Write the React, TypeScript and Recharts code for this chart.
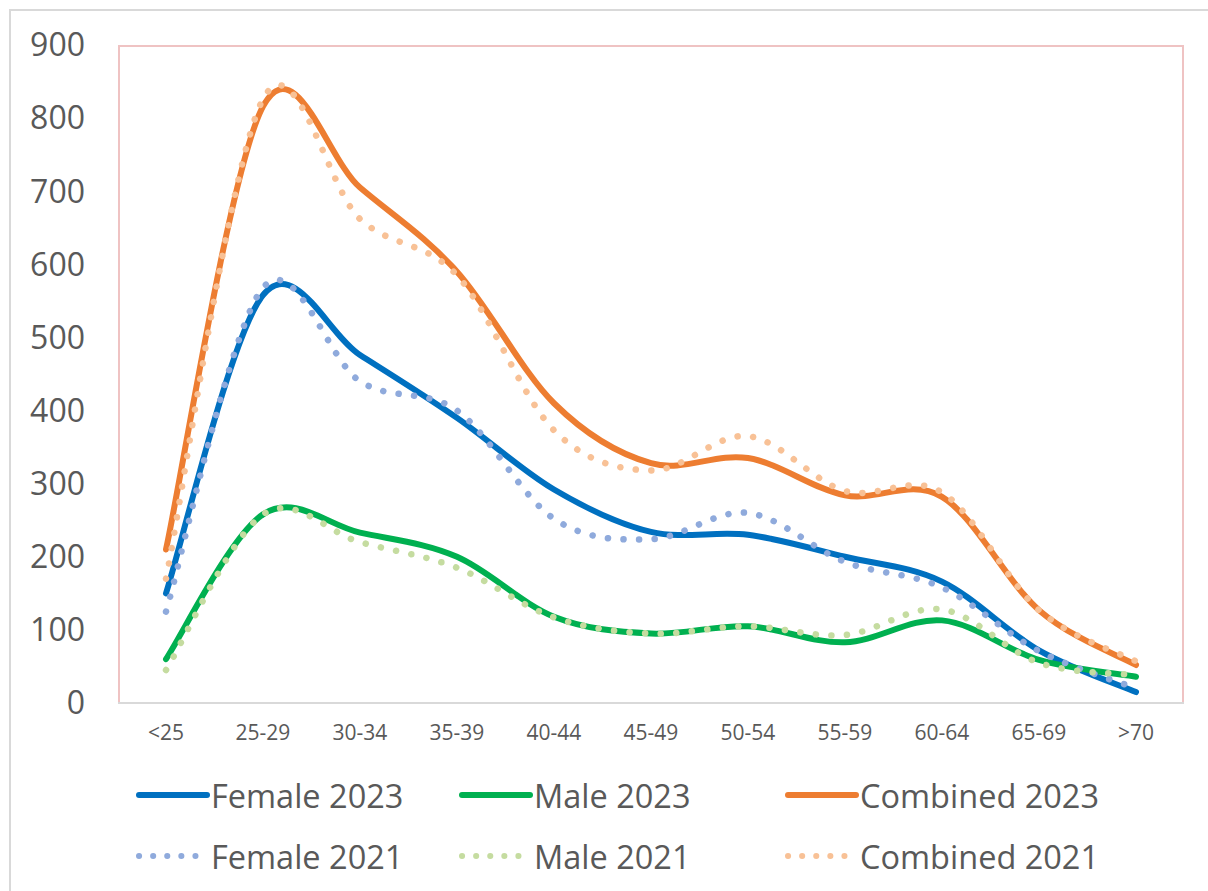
import React from 'react';
import { LineChart, Line, XAxis, YAxis } from 'recharts';

const ageGroups = ['<25', '25-29', '30-34', '35-39', '40-44', '45-49', '50-54', '55-59', '60-64', '65-69', '>70'];

const female2023 = [150, 558, 476, 390, 292, 234, 230, 200, 166, 72, 15];
const male2023 = [60, 258, 233, 200, 118, 95, 105, 83, 113, 59, 36];
const combined2023 = [210, 816, 705, 590, 410, 328, 335, 284, 282, 127, 52];
const female2021 = [125, 568, 440, 400, 252, 224, 260, 193, 158, 71, 20];
const male2021 = [45, 258, 220, 185, 117, 95, 105, 93, 128, 55, 38];
const combined2021 = [170, 826, 662, 585, 373, 318, 365, 290, 288, 127, 57];

const yTicks = [0, 100, 200, 300, 400, 500, 600, 700, 800, 900];

const data = ageGroups.map((age, i) => ({
  age,
  female2023: female2023[i],
  male2023: male2023[i],
  combined2023: combined2023[i],
  female2021: female2021[i],
  male2021: male2021[i],
  combined2021: combined2021[i],
}));

const series = [
  { key: 'female2023', name: 'Female 2023', color: '#0070C0', dotted: false },
  { key: 'male2023', name: 'Male 2023', color: '#00B050', dotted: false },
  { key: 'combined2023', name: 'Combined 2023', color: '#ED7D31', dotted: false },
  { key: 'female2021', name: 'Female 2021', color: '#8FAADC', dotted: true },
  { key: 'male2021', name: 'Male 2021', color: '#C5DCA0', dotted: true },
  { key: 'combined2021', name: 'Combined 2021', color: '#F8C196', dotted: true },
];

const FONT = '"Open Sans", "Liberation Sans", sans-serif';
const TEXT = '#595959';

// Office-style smoothed line: Catmull-Rom segments drawn as cubic beziers
function smoothCurve(context: any) {
  let pts: number[][] = [];
  return {
    areaStart() {},
    areaEnd() {},
    lineStart() {
      pts = [];
    },
    point(x: number, y: number) {
      pts.push([+x, +y]);
    },
    lineEnd() {
      if (!pts.length) return;
      context.moveTo(pts[0][0], pts[0][1]);
      for (let i = 0; i < pts.length - 1; i++) {
        const p0 = pts[i - 1] || pts[i];
        const p1 = pts[i];
        const p2 = pts[i + 1];
        const p3 = pts[i + 2] || pts[i + 1];
        context.bezierCurveTo(
          p1[0] + (p2[0] - p0[0]) / 6,
          p1[1] + (p2[1] - p0[1]) / 6,
          p2[0] - (p3[0] - p1[0]) / 6,
          p2[1] - (p3[1] - p1[1]) / 6,
          p2[0],
          p2[1]
        );
      }
    },
  };
}

const legendCols = [127, 450, 776];
const legendRows = [787, 848];

function LegendBlock() {
  return (
    <>
      {series.map((s, i) => {
        const col = i % 3;
        const row = Math.floor(i / 3);
        return (
          <div
            key={s.key}
            style={{
              position: 'absolute',
              left: legendCols[col],
              top: legendRows[row] - 22,
              height: 44,
              display: 'flex',
              alignItems: 'center',
              fontFamily: FONT,
              fontSize: 32.5,
              color: TEXT,
              whiteSpace: 'nowrap',
            }}
          >
            <svg width={76} height={12} style={{ marginRight: 0 }}>
              <line
                x1={4}
                y1={6}
                x2={s.dotted ? 70 : 72}
                y2={6}
                stroke={s.color}
                strokeWidth={6}
                strokeLinecap="round"
                strokeDasharray={s.dotted ? '0.1 14' : undefined}
              />
            </svg>
            {s.name}
          </div>
        );
      })}
    </>
  );
}

export default function App() {
  return (
    <div
      style={{
        position: 'fixed',
        left: 8,
        top: 8,
        width: 1200,
        height: 883,
        overflow: 'hidden',
        background: '#fff',
      }}
    >
      {/* chart frame */}
      <div
        style={{
          position: 'absolute',
          left: 1,
          top: 1,
          width: 1400,
          height: 1100,
          border: '2px solid #D9D9D9',
          boxSizing: 'border-box',
        }}
      />
      {/* plot area outline */}
      <div
        style={{
          position: 'absolute',
          left: 110,
          top: 37,
          width: 1066,
          height: 658,
          borderTop: '2px solid #EFC3C3',
          borderLeft: '2px solid #EFC3C3',
          borderRight: '2px solid #EFC3C3',
          boxSizing: 'border-box',
        }}
      />
      <div style={{ position: 'absolute', left: 0, top: 0 }}>
        <LineChart width={1200} height={883} data={data} margin={{ top: 37, right: 24, left: 0, bottom: 148 }}>
          <XAxis
            dataKey="age"
            height={40}
            padding={{ left: 48, right: 48 }}
            tickLine={false}
            tickSize={0}
            tickMargin={22}
            axisLine={{ stroke: '#D9D9D9', strokeWidth: 2 }}
            tick={{ fontSize: 21, fill: TEXT, fontFamily: FONT }}
            interval={0}
          />
          <YAxis
            width={110}
            domain={[0, 900]}
            ticks={yTicks}
            interval={0}
            tickLine={false}
            axisLine={false}
            tickSize={0}
            tickMargin={33}
            tick={{ fontSize: 32, fill: TEXT, fontFamily: FONT }}
          />
          {series.map((s) => (
            <Line
              key={s.key}
              dataKey={s.key}
              name={s.name}
              type={smoothCurve as any}
              stroke={s.color}
              strokeWidth={s.dotted ? 6.5 : 6}
              strokeLinecap="round"
              strokeDasharray={s.dotted ? '0.1 15.5' : undefined}
              dot={false}
              activeDot={false}
              isAnimationActive={false}
            />
          ))}
        </LineChart>
      </div>
      <LegendBlock />
    </div>
  );
}
